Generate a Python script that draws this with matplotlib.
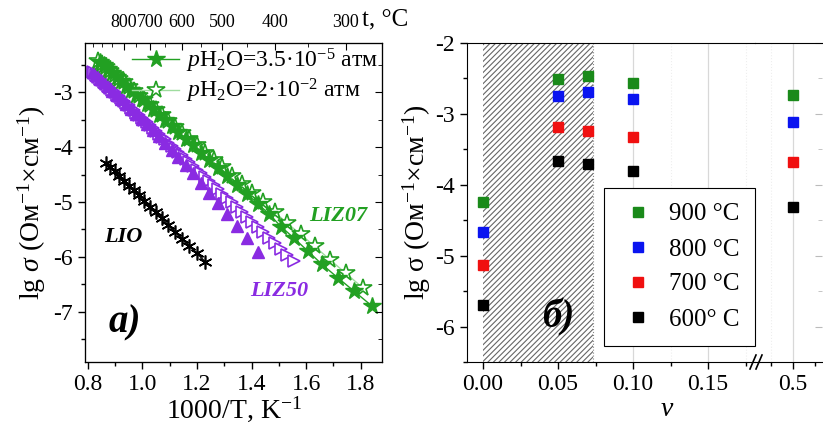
import matplotlib
matplotlib.use('Agg')
import matplotlib.pyplot as plt
from matplotlib.ticker import MultipleLocator, FixedLocator
from matplotlib.lines import Line2D

plt.rcParams.update({
    'font.family': ['Liberation Serif', 'DejaVu Serif'],
    'mathtext.fontset': 'custom',
    'mathtext.rm': 'Liberation Serif',
    'mathtext.it': 'Liberation Serif:italic',
    'mathtext.bf': 'Liberation Serif:bold',
    'axes.unicode_minus': False,
    'hatch.linewidth': 0.8,
})

# ---- panel a) : lg sigma vs 1000/T ----
liz07_dry_x = [0.8453, 0.8598, 0.8749, 0.8905, 0.9066, 0.9234, 0.9407, 0.9588, 0.9775, 0.9970,
               1.0173, 1.0384, 1.0604, 1.0834, 1.1074, 1.1325, 1.1587, 1.1862, 1.2151, 1.2453,
               1.2771, 1.3106, 1.3459, 1.3831, 1.4225, 1.4641, 1.5083, 1.5552, 1.6051, 1.6584,
               1.7153, 1.7762, 1.8416]
liz07_dry_y = [-2.45, -2.51, -2.58, -2.65, -2.72, -2.80, -2.88, -2.96, -3.04, -3.13,
               -3.22, -3.31, -3.41, -3.51, -3.62, -3.73, -3.85, -3.97, -4.10, -4.24,
               -4.38, -4.53, -4.69, -4.85, -5.03, -5.22, -5.45, -5.66, -5.89, -6.14,
               -6.38, -6.63, -6.90]

liz07_wet_x = [0.8382, 0.8525, 0.8673, 0.8826, 0.8985, 0.9149, 0.9320, 0.9497, 0.9681, 0.9872,
               1.0070, 1.0277, 1.0493, 1.0718, 1.0953, 1.1198, 1.1455, 1.1723, 1.2005, 1.2300,
               1.2610, 1.2937, 1.3280, 1.3643, 1.4025, 1.4430, 1.4859, 1.5314, 1.5798, 1.6313,
               1.6863, 1.7452, 1.8083]
liz07_wet_y = [-2.42, -2.48, -2.54, -2.61, -2.68, -2.75, -2.82, -2.90, -2.98, -3.06,
               -3.14, -3.23, -3.32, -3.42, -3.52, -3.63, -3.74, -3.85, -3.97, -4.10,
               -4.23, -4.37, -4.52, -4.67, -4.84, -5.01, -5.19, -5.39, -5.59, -5.81,
               -6.05, -6.30, -6.57]

liz50_dry_x = [0.8177, 0.8313, 0.8453, 0.8598, 0.8749, 0.8905, 0.9066, 0.9234, 0.9407, 0.9588,
               0.9775, 0.9970, 1.0173, 1.0384, 1.0604, 1.0834, 1.1074, 1.1325, 1.1587, 1.1862,
               1.2151, 1.2453, 1.2771, 1.3106, 1.3459, 1.3831, 1.4225]
liz50_dry_y = [-2.62, -2.68, -2.75, -2.82, -2.89, -2.97, -3.05, -3.12, -3.21, -3.30,
               -3.39, -3.48, -3.58, -3.69, -3.80, -3.92, -4.05, -4.18, -4.33, -4.48,
               -4.65, -4.83, -5.02, -5.22, -5.44, -5.66, -5.92]

liz50_wet_x = [0.8177, 0.8244, 0.8313, 0.8382, 0.8453, 0.8525, 0.8598, 0.8673, 0.8749, 0.8826,
               0.8905, 0.8985, 0.9066, 0.9149, 0.9234, 0.9320, 0.9407, 0.9497, 0.9588, 0.9681,
               0.9775, 0.9872, 0.9970, 1.0070, 1.0173, 1.0277, 1.0384, 1.0493, 1.0604, 1.0718,
               1.0834, 1.0953, 1.1074, 1.1198, 1.1325, 1.1455, 1.1587, 1.1723, 1.1862, 1.2005,
               1.2151, 1.2300, 1.2453, 1.2610, 1.2771, 1.2937, 1.3106, 1.3280, 1.3459, 1.3643,
               1.3831, 1.4025, 1.4225, 1.4430, 1.4641, 1.4859, 1.5083, 1.5314, 1.5552]
liz50_wet_y = [-2.62, -2.65, -2.68, -2.72, -2.75, -2.78, -2.82, -2.85, -2.89, -2.92,
               -2.96, -3.00, -3.04, -3.07, -3.11, -3.15, -3.20, -3.24, -3.28, -3.32,
               -3.37, -3.41, -3.46, -3.51, -3.55, -3.60, -3.65, -3.70, -3.76, -3.81,
               -3.86, -3.92, -3.98, -4.03, -4.09, -4.15, -4.22, -4.28, -4.34, -4.41,
               -4.48, -4.55, -4.62, -4.69, -4.77, -4.85, -4.93, -5.01, -5.09, -5.18,
               -5.27, -5.36, -5.45, -5.55, -5.65, -5.75, -5.85, -5.96, -6.07]

lio_x = [0.8673, 0.8826, 0.8985, 0.9149, 0.9320, 0.9497, 0.9681, 0.9872, 1.0070, 1.0277,
         1.0493, 1.0718, 1.0953, 1.1198, 1.1455, 1.1723, 1.2005, 1.2300]
lio_y = [-4.29, -4.37, -4.44, -4.53, -4.61, -4.70, -4.79, -4.88, -4.98, -5.09,
         -5.19, -5.30, -5.42, -5.54, -5.67, -5.80, -5.94, -6.09]

top_t_major = [800, 700, 600, 500, 400, 300]
top_t_minor = [950, 900, 850, 750, 650, 550, 450, 350]

# ---- panel б) : lg sigma vs y ----
v_main = [0.0, 0.05, 0.07, 0.10]
v_far = [0.5]
temps = ['900 °C', '800 °C', '700 °C', '600° C']
colors = ['#1a8a1a', '#0a14f0', '#f01010', '#000000']
sig_main = {
    '900 °C': [-4.24, -2.51, -2.46, -2.57],
    '800 °C': [-4.66, -2.75, -2.69, -2.79],
    '700 °C': [-5.13, -3.19, -3.24, -3.32],
    '600° C': [-5.70, -3.67, -3.70, -3.81],
}
sig_far = {
    '900 °C': [-2.73],
    '800 °C': [-3.12],
    '700 °C': [-3.68],
    '600° C': [-4.32],
}

green = '#22a022'
purple = '#8a2be2'

W, H = 823, 425
fig = plt.figure(figsize=(W / 100, H / 100), dpi=100)

bot = 1 - 362 / H
top = 1 - 43 / H

# ================= left panel =================
ax = fig.add_axes([85 / W, bot, (382 - 85) / W, top - bot])
ax.plot(liz50_wet_x, liz50_wet_y, '>', ms=8, mfc='white', mec=purple, mew=1.2, ls='none')
ax.plot(liz50_dry_x, liz50_dry_y, '^', ms=8, color=purple, ls='none')
ax.plot(lio_x, lio_y, '-', color='black', lw=1.0, marker=(6, 2, 0), ms=10, mew=1.2)
ax.plot(liz07_wet_x, liz07_wet_y, '-', color='#9fdc9f', lw=1.0, marker='*', ms=13,
        mfc='white', mec=green, mew=1.2)
ax.plot(liz07_dry_x, liz07_dry_y, '-', color=green, lw=1.0, marker='*', ms=13,
        mfc=green, mec=green)

ax.set_xlim(0.79, 1.878)
ax.set_ylim(-7.92, -2.1)
ax.xaxis.set_major_locator(MultipleLocator(0.2))
ax.xaxis.set_minor_locator(MultipleLocator(0.1))
ax.yaxis.set_major_locator(MultipleLocator(1))
ax.yaxis.set_minor_locator(MultipleLocator(0.5))
ax.set_xticks([0.8, 1.0, 1.2, 1.4, 1.6, 1.8])
ax.set_xticklabels(['0.8', '1.0', '1.2', '1.4', '1.6', '1.8'])
ax.tick_params(axis='both', which='major', labelsize=17, length=5, width=1, direction='out')
ax.tick_params(axis='both', which='minor', length=3, width=1, direction='out')
ax.set_xlabel('1000/T, K$^{-1}$', fontsize=20, labelpad=0)
ax.set_ylabel(r'lg $\it{\sigma}$ (Ом$^{-1}$×см$^{-1}$)', fontsize=20, labelpad=4)

# inward ticks on the right side
axy = ax.twinx()
axy.set_ylim(ax.get_ylim())
axy.yaxis.set_major_locator(MultipleLocator(1))
axy.yaxis.set_minor_locator(MultipleLocator(0.5))
axy.tick_params(axis='y', which='major', direction='in', length=5, labelright=False)
axy.tick_params(axis='y', which='minor', direction='in', length=3)

# top temperature axis
axt = ax.twiny()
axt.set_xlim(ax.get_xlim())
axt.xaxis.set_major_locator(FixedLocator([1000 / (t + 273) for t in top_t_major]))
axt.xaxis.set_minor_locator(FixedLocator([1000 / (t + 273) for t in top_t_minor]))
axt.set_xticklabels([str(t) for t in top_t_major])
axt.tick_params(axis='x', which='major', direction='in', length=5, labelsize=13, pad=9)
axt.tick_params(axis='x', which='minor', direction='in', length=3)
fig.text(362 / W, 1 - 19 / H, 't, °C', fontsize=18, va='center')

ax.text(1.716, -5.25, 'LIZ07', color=green, fontsize=16, fontweight='bold',
        fontstyle='italic', ha='center', va='center')
ax.text(0.93, -5.64, 'LIO', color='black', fontsize=16, fontweight='bold',
        fontstyle='italic', ha='center', va='center')
ax.text(1.50, -6.62, 'LIZ50', color=purple, fontsize=16, fontweight='bold',
        fontstyle='italic', ha='center', va='center')
ax.text(0.935, -7.2, 'a)', fontsize=28, fontweight='bold', fontstyle='italic',
        ha='center', va='center')

handles = [
    Line2D([], [], color=green, lw=1.0, marker='*', ms=13, mfc=green, mec=green),
    Line2D([], [], color='#9fdc9f', lw=1.0, marker='*', ms=13, mfc='white', mec=green, mew=1.2),
]
labels = [r'$p$H$_2$O=3.5·10$^{-5}$ атм', r'$p$H$_2$O=2·10$^{-2}$ атм']
ax.legend(handles, labels, loc='upper right', frameon=False, fontsize=17,
          handlelength=2.0, handletextpad=0.3, labelspacing=0.1,
          borderaxespad=0.0, borderpad=0.15)

# ================= right panel (broken x axis) =================
brk = 755
axr = fig.add_axes([467 / W, bot, (brk - 467) / W, top - bot])
axf = fig.add_axes([brk / W, bot, (822 - brk) / W, top - bot], sharey=axr)
axf.patch.set_alpha(0)

axr.set_xlim(-0.0107, 0.1813)
axf.set_xlim(0.4136, 0.5659)
axr.set_ylim(-6.5, -2.0)

axr.axvspan(0.0, 0.0733, facecolor='white', edgecolor='#666666', hatch='//////',
            linewidth=0, zorder=1)
axr.axvline(0.0733, color='#888888', lw=0.8, ls=':', zorder=1)

for xv in [0.10, 0.15]:
    axr.axvline(xv, color='#d8d8d8', lw=0.9, zorder=0)
for xv in [0.125, 0.175]:
    axr.axvline(xv, color='#eeeeee', lw=0.8, ls=':', zorder=0)
axf.axvline(0.5, color='#d8d8d8', lw=0.9, zorder=0)
axf.axvline(0.45, color='#eeeeee', lw=0.8, ls=':', zorder=0)

for lab, c in zip(temps, colors):
    axr.plot(v_main, sig_main[lab], 's', ms=7.5, color=c, label=lab, zorder=3)
    axf.plot(v_far, sig_far[lab], 's', ms=7.5, color=c, zorder=3)

axr.xaxis.set_major_locator(MultipleLocator(0.05))
axr.xaxis.set_minor_locator(MultipleLocator(0.025))
axr.set_xticks([0.0, 0.05, 0.10, 0.15])
axr.set_xticklabels(['0.00', '0.05', '0.10', '0.15'])
axr.yaxis.set_major_locator(MultipleLocator(1))
axr.yaxis.set_minor_locator(MultipleLocator(0.5))
axr.tick_params(axis='both', which='major', labelsize=17, length=5, width=1, direction='out')
axr.tick_params(axis='both', which='minor', length=3, width=1, direction='out')
axr.spines['right'].set_visible(False)

axf.set_xticks([0.5])
axf.set_xticklabels(['0.5'])
axf.xaxis.set_minor_locator(FixedLocator([0.45, 0.55]))
axf.tick_params(axis='x', which='major', labelsize=17, length=5, width=1, direction='out')
axf.tick_params(axis='x', which='minor', length=3, width=1, direction='out')
axf.tick_params(axis='y', which='both', left=False, labelleft=False, right=True,
                direction='in', colors='#bbbbbb')
axf.tick_params(axis='y', which='major', length=5)
axf.tick_params(axis='y', which='minor', length=3)
axf.spines['left'].set_visible(False)
axf.spines['right'].set_visible(False)

axr.set_ylabel(r'lg σ (Ом$^{-1}$×см$^{-1}$)', fontsize=20, labelpad=2)
fig.text(667 / W, 1 - 410 / H, 'v', fontsize=20, fontstyle='italic', ha='center', va='center')

axr.text(0.05, -5.87, 'б)', fontsize=28, fontweight='bold', fontstyle='italic',
         ha='center', va='center')

h, l = axr.get_legend_handles_labels()
leg = fig.legend(h, l, loc='upper left', bbox_to_anchor=(604 / W, 1 - 188 / H),
                 bbox_transform=fig.transFigure, fontsize=18, frameon=True,
                 fancybox=False, edgecolor='black', framealpha=1, handletextpad=0.5,
                 labelspacing=0.5, borderpad=0.6, handlelength=1.5, borderaxespad=0)
leg.get_frame().set_linewidth(0.8)

# break marks on the bottom axis
yb = bot
for dx in (-5, 1):
    fig.add_artist(Line2D([(brk + dx) / W, (brk + dx + 6) / W],
                          [yb - 7 / H, yb + 7 / H], color='black', lw=1.2,
                          transform=fig.transFigure))

fig.savefig('out.png', dpi=100)
